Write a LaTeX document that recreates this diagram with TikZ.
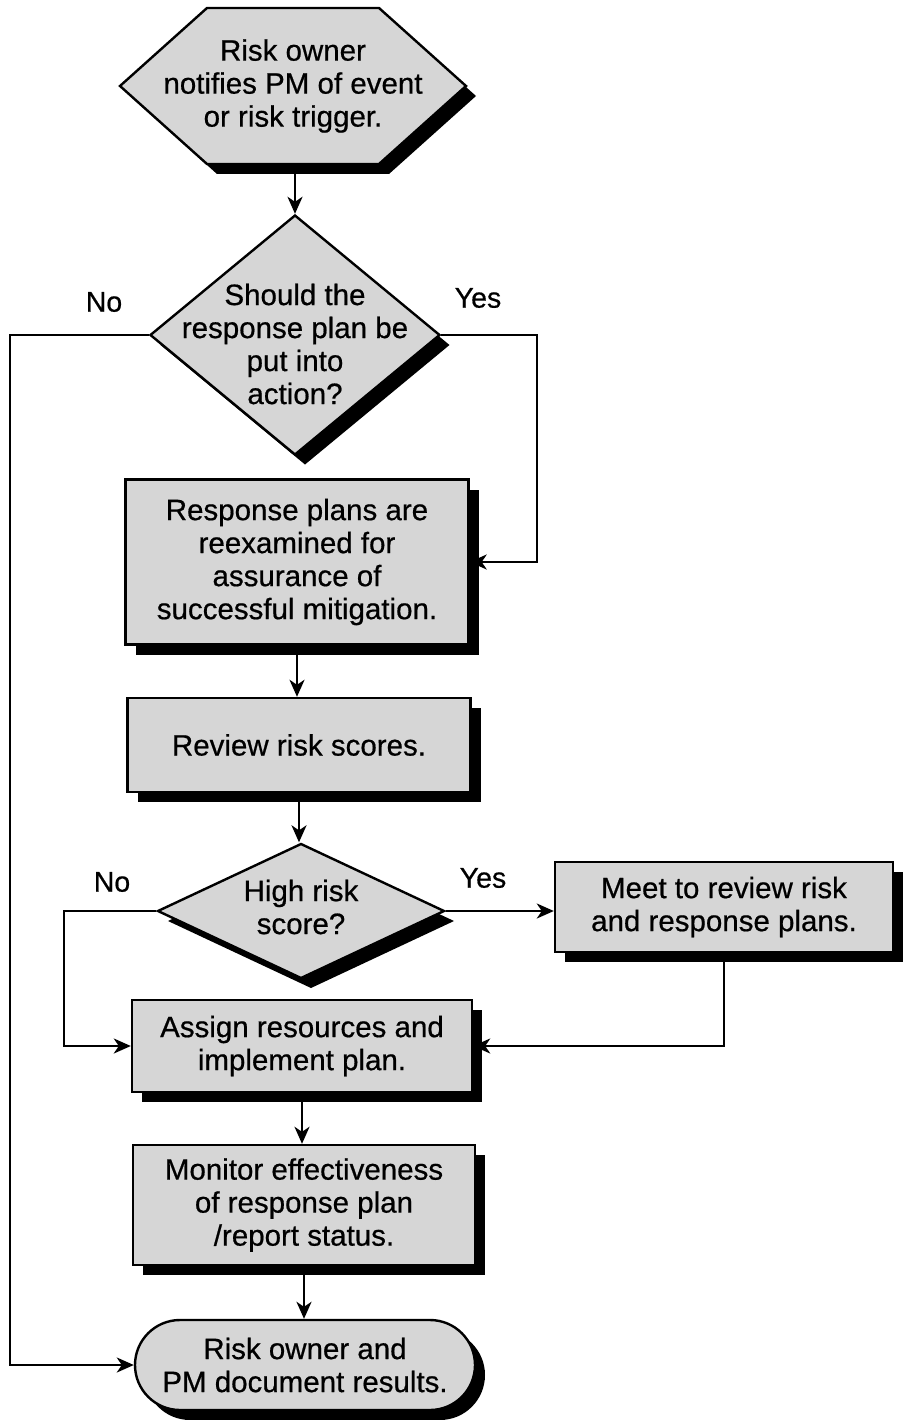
\documentclass[tikz,border=0pt]{standalone}
\usepackage{fontspec}
\setmainfont[FakeBold=0.6]{Liberation Sans}
\usetikzlibrary{shapes.geometric,shapes.misc,shadows,arrows.meta,calc}
\definecolor{boxfill}{gray}{0.84}
\begin{document}
\begin{tikzpicture}[x=1pt,y=-1pt,
  every node/.style={font=\fontsize{29.5}{33}\selectfont, align=center},
  shapebase/.style={draw=black, line width=2.4pt, fill=boxfill, line join=miter,
    drop shadow={shadow xshift=10pt, shadow yshift=-10pt, fill=black, opacity=1}},
  procbox/.style={shapebase, rectangle, inner sep=0pt},
  decision/.style={shapebase, diamond, inner sep=0pt},
  term/.style={shapebase, rounded rectangle, inner sep=0pt},
  conn/.style={line width=2.2pt, -{Stealth[length=17pt,width=15pt,inset=5pt]}},
  lbl/.style={font=\fontsize{28.5}{30}\selectfont}
]
\useasboundingbox (0,0) rectangle (902,1420);

% start hexagon
\coordinate (hexc) at (293,86);
\path[shapebase] ($(hexc)+(-173,0)$) -- ($(hexc)+(-86,-78)$) -- ($(hexc)+(86,-78)$)
  -- ($(hexc)+(173,0)$) -- ($(hexc)+(86,78)$) -- ($(hexc)+(-86,78)$) -- cycle;
\node (hex) at (hexc) {Risk owner\\notifies PM of event\\or risk trigger.};
\coordinate (hexbot) at ($(hexc)+(2,78)$);

% shapes
\node[decision, minimum width=290pt, minimum height=240pt] (d1) at (295,335) {};
\node (d1t) at ($(d1)+(0,9)$) {Should the\\response plan be\\put into\\action?};
\node[procbox, minimum width=343pt, minimum height=165pt] (b1) at (297,562)
  {Response plans are\\reexamined for\\assurance of\\successful mitigation.};
\node[procbox, minimum width=343pt, minimum height=94pt] (b2) at (299,745)
  {Review risk scores.};
\node[decision, minimum width=287pt, minimum height=135pt] (d2) at (301,911) {};
\node (d2t) at ($(d2)+(0,-4)$) {High risk\\score?};
\node[procbox, minimum width=338pt, minimum height=90pt] (b3) at (724,907)
  {Meet to review risk\\and response plans.};
\node[procbox, minimum width=340pt, minimum height=92pt] (b4) at (302,1046)
  {Assign resources and\\implement plan.};
\node[procbox, minimum width=342pt, minimum height=120pt] (b5) at (304,1205)
  {Monitor effectiveness\\of response plan\\/report status.};
\node[term, minimum width=340pt, minimum height=90pt] (t) at (305,1365)
  {Risk owner and\\PM document results.};

% labels
\node[lbl] (no1) at (104,302) {No};
\node[lbl] (yes1) at (478,298) {Yes};
\node[lbl] (no2) at (112,882) {No};
\node[lbl] (yes2) at (483,878) {Yes};

% rails
\coordinate (leftrail) at (10,0);
\coordinate (rightrail) at (537,0);
\coordinate (midrail) at (64,0);

% connectors
\draw[conn] (hexbot) -- (hexbot |- d1.north);
\draw[conn] (d1.east) -- (d1.east -| rightrail) |- (b1.east);
\draw[conn] (d1.west) -- (d1.west -| leftrail) |- (t.west);
\draw[conn] (b1.south) -- (b1.south |- b2.north);
\draw[conn] (b2.south) -- (b2.south |- d2.north);
\draw[conn] (d2.east) -- (d2.east -| b3.west);
\draw[conn] (d2.west) -- (d2.west -| midrail) |- (b4.west);
\draw[conn] (b3.south) |- (b4.east);
\draw[conn] (b4.south) -- (b4.south |- b5.north);
\draw[conn] (b5.south) -- (b5.south |- t.north);
\end{tikzpicture}
\end{document}
